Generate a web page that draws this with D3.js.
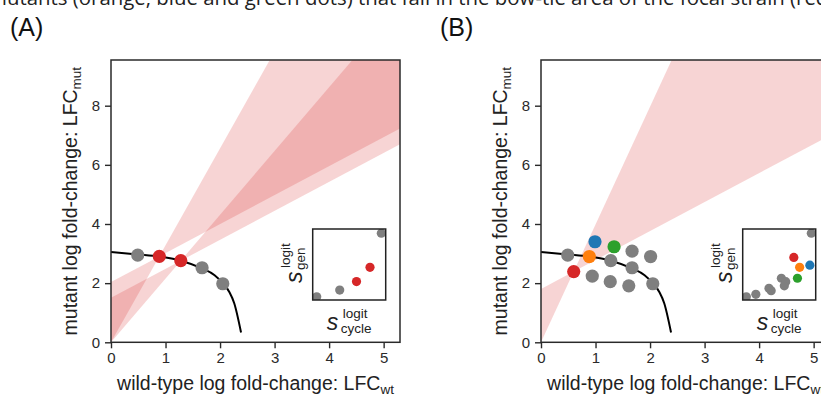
<!DOCTYPE html>
<html>
<head>
<meta charset="utf-8">
<script src="https://cdn.jsdelivr.net/npm/d3@7"></script>
<style>
  body { margin: 0; background: #fff; }
  svg { display: block; }
</style>
</head>
<body>
<div id="chart-area"></div>
<script>
// ticks
const xTicks = [0, 1, 2, 3, 4, 5];
const yTicks = [0, 2, 4, 6, 8];

// black trade-off curve (LFC_wt, LFC_mut)
const curveX = [0, 0.49, 0.886, 1.28, 1.67, 1.9, 2.05, 2.17, 2.26, 2.385];
const curveY = [3.05, 2.97, 2.9, 2.76, 2.5, 2.27, 2.0, 1.7, 1.32, 0.33];

// panel A points
const aGrayX = [0.49, 1.67, 2.05];
const aGrayY = [2.95, 2.52, 1.98];
const aRedX = [0.886, 1.28];
const aRedY = [2.905, 2.76];

// panel B points
const bGrayX = [0.49, 0.94, 1.28, 1.27, 1.67, 1.67, 1.61, 2.01, 2.05];
const bGrayY = [2.95, 2.24, 2.76, 2.05, 3.08, 2.52, 1.91, 2.90, 1.98];
const bColorName = ["red", "orange", "blue", "green"];
const bColorX = [0.6, 0.886, 0.99, 1.34];
const bColorY = [2.39, 2.9, 3.40, 3.23];

// slope of the second bow-tie edge
const diagSlope = 0.98;

// insets (s_cycle, s_gen), scaled 0..1
const aInGrayX = [0.055, 0.37, 0.94];
const aInGrayY = [0.046, 0.14, 0.94];
const aInRedX = [0.60, 0.785];
const aInRedY = [0.26, 0.46];
const bInGrayX = [0.05, 0.18, 0.36, 0.39, 0.53, 0.59, 0.57, 0.94];
const bInGrayY = [0.046, 0.08, 0.165, 0.13, 0.306, 0.258, 0.2, 0.94];
const bInColorX = [0.70, 0.78, 0.92, 0.75];
const bInColorY = [0.60, 0.46, 0.49, 0.306];

const colors = {
  gray: "#7f7f7f",
  red: "#d62728",
  orange: "#ff7f0e",
  blue: "#1f77b4",
  green: "#2ca02c"
};

const zip = (xs, ys) => xs.map((x, i) => [x, ys[i]]);

let svgW = 821;
let svgH = 394;
let plotW = 289;
let plotH = 282.3;
let plotTop = 60;
const sansFont = "'Liberation Sans', Arial, sans-serif";

let svg = d3.select("#chart-area")
  .append("svg")
  .attr("width", svgW)
  .attr("height", svgH)
  .style("font-family", sansFont);

// caption line cut off at the top
svg.append("text")
  .attr("x", -12)
  .attr("y", 5)
  .style("font-family", "'Open Sans', sans-serif")
  .style("font-size", "20.4px")
  .attr("fill", "#222")
  .text("mutants (orange, blue and green dots) that fall in the bow-tie area of the focal strain (red dot).");

const drawPanel = (left, letter, focal, gray, colored, inGray, inColored) => {
  let x = d3.scaleLinear().domain([0, 5.3]).range([0, plotW]);
  let y = d3.scaleLinear().domain([0, 9.545]).range([plotH, 0]);

  svg.append("text")
    .attr("x", left - 101)
    .attr("y", 36)
    .style("font-size", "25px")
    .attr("fill", "#111")
    .text(letter);

  let g = svg.append("g")
    .attr("transform", `translate(${left},${plotTop})`);

  let clipId = "clip" + letter.replace(/\W/g, "");
  g.append("clipPath").attr("id", clipId)
    .append("rect").attr("width", plotW).attr("height", plotH);

  let body = g.append("g").attr("clip-path", `url(#${clipId})`);

  // bow ties
  focal.forEach(([x0, y0]) => {
    let s1 = y0 / x0;
    let b = y0 - diagSlope * x0;
    let far = 30;
    let low = [[0, 0], [x0, y0], [0, b]];
    let high = [[x0, y0], [far, s1 * far], [far, b + diagSlope * far]];
    [low, high].forEach(poly => {
      body.append("path")
        .attr("d", "M" + poly.map(p => [x(p[0]), y(p[1])].join(",")).join("L") + "Z")
        .attr("fill", colors.red)
        .attr("fill-opacity", 0.2);
    });
  });

  // curve
  body.append("path")
    .datum(zip(curveX, curveY))
    .attr("d", d3.line().x(d => x(d[0])).y(d => y(d[1])).curve(d3.curveMonotoneX))
    .attr("fill", "none")
    .attr("stroke", "#000")
    .attr("stroke-width", 2);

  body.selectAll("circle.gray")
    .data(gray)
    .enter().append("circle")
    .attr("class", "gray")
    .attr("cx", d => x(d[0]))
    .attr("cy", d => y(d[1]))
    .attr("r", 6.6)
    .attr("fill", colors.gray);

  body.selectAll("circle.col")
    .data(colored)
    .enter().append("circle")
    .attr("class", "col")
    .attr("cx", d => x(d[0]))
    .attr("cy", d => y(d[1]))
    .attr("r", 6.6)
    .attr("fill", d => colors[d[2]]);

  // axes
  let xAxis = g.append("g")
    .attr("transform", `translate(0,${plotH})`)
    .call(d3.axisBottom(x).tickValues(xTicks).tickSize(6).tickPadding(4).tickFormat(d3.format("d")));
  let yAxis = g.append("g")
    .call(d3.axisLeft(y).tickValues(yTicks).tickSize(6).tickPadding(5).tickFormat(d3.format("d")));
  [xAxis, yAxis].forEach(a => {
    a.select(".domain").remove();
    a.selectAll("line").attr("stroke", "#2a2a2a").attr("stroke-width", 1.4);
    a.selectAll("text").attr("fill", "#2a2a2a")
      .style("font-size", "15px").style("font-family", sansFont);
  });

  g.append("rect")
    .attr("width", plotW)
    .attr("height", plotH)
    .attr("fill", "none")
    .attr("stroke", "#2a2a2a")
    .attr("stroke-width", 1.5);

  // axis labels
  let xl = g.append("text")
    .attr("x", plotW / 2)
    .attr("y", plotH + 48)
    .attr("text-anchor", "middle")
    .style("font-size", "19.5px")
    .attr("fill", "#222");
  xl.append("tspan").text("wild-type log fold-change: LFC");
  xl.append("tspan").attr("dy", 4).style("font-size", "13.5px").text("wt");

  let yl = g.append("text")
    .attr("transform", `translate(-34,${plotH / 2}) rotate(-90)`)
    .attr("text-anchor", "middle")
    .style("font-size", "19.5px")
    .attr("fill", "#222");
  yl.append("tspan").text("mutant log fold-change: LFC");
  yl.append("tspan").attr("dy", 4).style("font-size", "13.5px").text("mut");

  // inset
  let inX0 = 201.7, inY0 = 169, inW = 73, inH = 71;
  let ix = d3.scaleLinear().domain([0, 1]).range([0, inW]);
  let iy = d3.scaleLinear().domain([0, 1]).range([inH, 0]);
  let ig = g.append("g").attr("transform", `translate(${inX0},${inY0})`);
  ig.append("rect").attr("width", inW).attr("height", inH).attr("fill", "#fff");
  let inClip = clipId + "in";
  ig.append("clipPath").attr("id", inClip)
    .append("rect").attr("width", inW).attr("height", inH);
  let ib = ig.append("g").attr("clip-path", `url(#${inClip})`);
  ib.selectAll("circle.gray")
    .data(inGray)
    .enter().append("circle")
    .attr("class", "gray")
    .attr("cx", d => ix(d[0]))
    .attr("cy", d => iy(d[1]))
    .attr("r", 4.6)
    .attr("fill", colors.gray);
  ib.selectAll("circle.col")
    .data(inColored)
    .enter().append("circle")
    .attr("class", "col")
    .attr("cx", d => ix(d[0]))
    .attr("cy", d => iy(d[1]))
    .attr("r", 4.6)
    .attr("fill", d => colors[d[2]]);
  ig.append("rect").attr("width", inW).attr("height", inH)
    .attr("fill", "none").attr("stroke", "#222").attr("stroke-width", 1.5);

  // inset x label
  let lx = ig.append("g").attr("transform", `translate(14,${inH + 30})`)
    .attr("fill", "#222");
  lx.append("text").attr("x", 0).attr("y", 0).style("font-size", "23px").style("font-style", "italic").text("s");
  lx.append("text").attr("x", 16).attr("y", -12).style("font-size", "13.5px").text("logit");
  lx.append("text").attr("x", 14).attr("y", 3).style("font-size", "13.5px").text("cycle");
  // inset y label
  let ly = ig.append("g").attr("transform", `translate(-11,${inH - 17}) rotate(-90)`)
    .attr("fill", "#222");
  ly.append("text").attr("x", 0).attr("y", 0).style("font-size", "23px").style("font-style", "italic").text("s");
  ly.append("text").attr("x", 15).attr("y", -12).style("font-size", "13.5px").text("logit");
  ly.append("text").attr("x", 13).attr("y", 3).style("font-size", "13.5px").text("gen");
};

drawPanel(111, "(A)",
  zip(aRedX, aRedY),
  zip(aGrayX, aGrayY),
  aRedX.map((v, i) => [v, aRedY[i], "red"]),
  zip(aInGrayX, aInGrayY),
  aInRedX.map((v, i) => [v, aInRedY[i], "red"]));

drawPanel(541, "(B)",
  [[bColorX[0], bColorY[0]]],
  zip(bGrayX, bGrayY),
  bColorX.map((v, i) => [v, bColorY[i], bColorName[i]]),
  zip(bInGrayX, bInGrayY),
  bInColorX.map((v, i) => [v, bInColorY[i], bColorName[i]]));
</script>
</body>
</html>
